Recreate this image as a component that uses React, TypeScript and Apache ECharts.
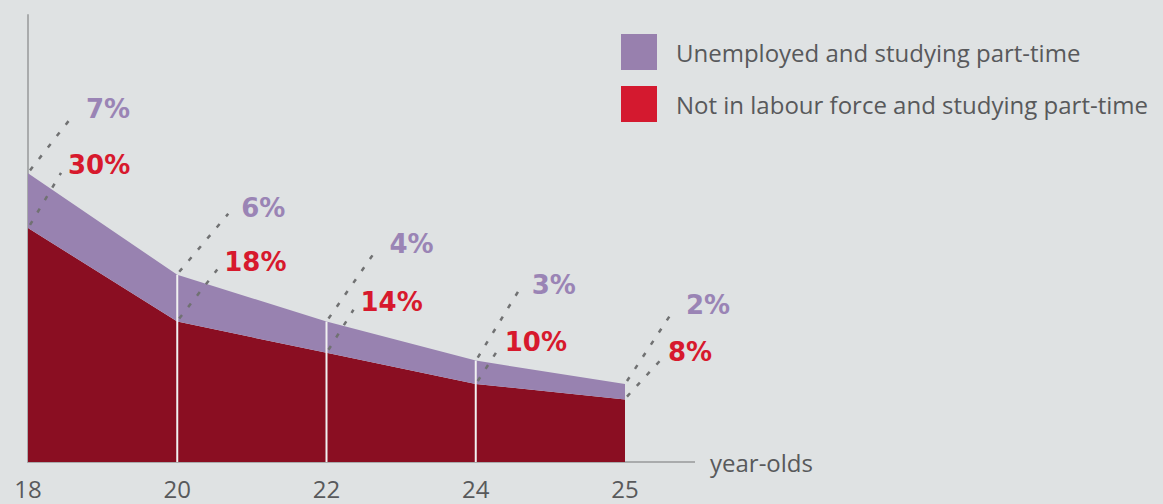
import React, { useEffect, useRef } from "react";
import * as echarts from "echarts";

// ---- data ----
const ages = ["18", "20", "22", "24", "25"];
const notInLabourForce = [30, 18, 14, 10, 8];
const unemployed = [7, 6, 4, 3, 2];
const seriesNames = ["Unemployed and studying part-time", "Not in labour force and studying part-time"];
const axisName = "year-olds";

// ---- label layout (pixel offsets of each callout from its point) ----
const unemployedLabelOffset = [[58, -64], [64, -67], [63, -78], [56, -76], [61, -79]];
const notInLFLabelOffset = [[40, -63], [47, -60], [34, -51], [29, -42], [43, -48]];

const BG = "#dfe2e3";
const PURPLE_AREA = "#9882b0";
const RED_AREA = "#8a0e22";
const PURPLE_TEXT = "#9a84b5";
const RED_TEXT = "#d7192d";
const AXIS = "#a9abac";
const TEXT = "#58595b";

export default function App() {
  const ref = useRef<HTMLDivElement>(null);
  useEffect(() => {
    const chart = echarts.init(ref.current!, null, { renderer: "svg" });
    const n = ages.length;
    const gridLeft = 28;
    const gridWidth = 597;
    const gridTop = 15;
    const gridBottom = 42;
    chart.setOption({
      animation: false,
      backgroundColor: BG,
      grid: { left: gridLeft, width: gridWidth, top: gridTop, bottom: gridBottom },
      legend: {
        left: 621,
        top: 34,
        padding: 0,
        orient: "vertical",
        icon: "rect",
        itemWidth: 36,
        itemHeight: 36,
        itemGap: 16,
        selectedMode: false,
        data: [
          { name: seriesNames[0], itemStyle: { color: "#9880ae" } },
          { name: seriesNames[1], itemStyle: { color: "#d4192f" } },
        ],
        textStyle: { fontFamily: "Open Sans", fontSize: 24, color: TEXT, padding: [0, 0, 0, 14] },
      },
      xAxis: {
        type: "category",
        data: ages,
        boundaryGap: false,
        axisLine: { show: true, lineStyle: { color: AXIS, width: 2 } },
        axisTick: { show: false },
        splitLine: { show: false },
        axisLabel: { fontFamily: "Open Sans", fontSize: 24, lineHeight: 20, color: TEXT, margin: 16 },
        name: axisName,
        nameLocation: "end",
        nameGap: 85,
        nameTextStyle: { fontFamily: "Open Sans", fontSize: 24, color: TEXT, verticalAlign: "middle", padding: [0, 0, 12, 0] },
      },
      yAxis: {
        type: "value",
        min: 0,
        max: 57.3,
        axisLine: { show: true, lineStyle: { color: AXIS, width: 2 } },
        axisTick: { show: false },
        axisLabel: { show: false },
        splitLine: { show: false },
      },
      graphic: [
        {
          type: "line",
          shape: { x1: gridLeft + gridWidth, y1: 504 - gridBottom, x2: gridLeft + gridWidth + 70, y2: 504 - gridBottom },
          style: { stroke: AXIS, lineWidth: 2 },
          silent: true,
        },
      ],
      series: [
        {
          name: seriesNames[1],
          type: "line",
          stack: "total",
          data: notInLabourForce,
          symbol: "none",
          lineStyle: { width: 0 },
          itemStyle: { color: RED_AREA },
          areaStyle: { color: RED_AREA, opacity: 1 },
          z: 2,
        },
        {
          name: seriesNames[0],
          type: "line",
          stack: "total",
          data: unemployed,
          symbol: "none",
          lineStyle: { width: 0 },
          itemStyle: { color: PURPLE_AREA },
          areaStyle: { color: PURPLE_AREA, opacity: 1 },
          z: 2,
        },
        {
          type: "custom",
          z: 5,
          clip: false,
          silent: true,
          data: ages.map((_, i) => [i, notInLabourForce[i], unemployed[i]]),
          renderItem: (params: any, api: any) => {
            const i = api.value(0);
            const r = api.value(1);
            const u = api.value(2);
            const base = api.coord([i, 0]);
            const pr = api.coord([i, r]);
            const pt = api.coord([i, r + u]);
            const children: any[] = [];
            if (i > 0 && i < n - 1) {
              children.push({
                type: "line",
                shape: { x1: base[0], y1: base[1], x2: pt[0], y2: pt[1] },
                style: { stroke: "#f1f1f1", lineWidth: 2 },
              });
            }
            const callout = (p: number[], off: number[], color: string, text: string, endOff: number[]) => {
              const lx = p[0] + off[0];
              const ly = p[1] + off[1];
              children.push({
                type: "line",
                shape: { x1: p[0] + 2, y1: p[1] - 3, x2: lx + endOff[0], y2: ly + endOff[1] },
                style: { stroke: "#707172", lineWidth: 2.5, lineDash: [4.5, 10] },
              });
              children.push({
                type: "text",
                x: lx,
                y: ly,
                style: {
                  text,
                  fill: color,
                  font: "bold 26px 'DejaVu Sans'",
                  align: "left",
                  verticalAlign: "middle",
                },
              });
            };
            callout(pt, unemployedLabelOffset[i], PURPLE_TEXT, u + "%", [-13, 6]);
            callout(pr, notInLFLabelOffset[i], RED_TEXT, r + "%", [-7, 8]);
            return { type: "group", children };
          },
        },
      ],
    });
    return () => chart.dispose();
  }, []);
  return (
    <div
      ref={ref}
      style={{ position: "fixed", left: 0, top: 0, width: 1163, height: 504 }}
    />
  );
}
